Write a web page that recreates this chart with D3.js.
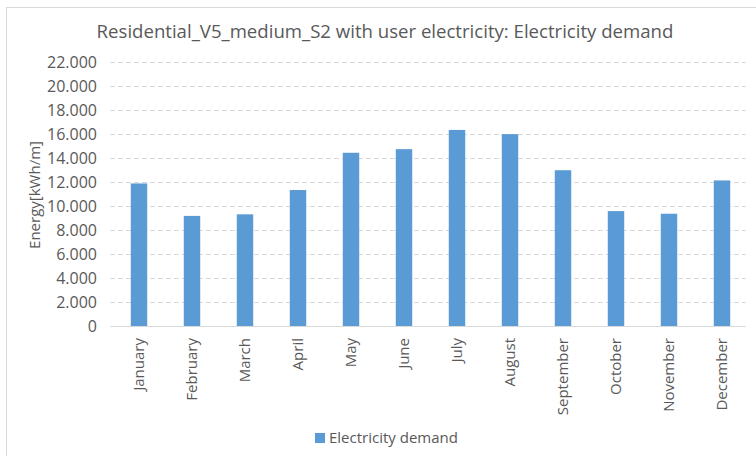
<!DOCTYPE html>
<html lang="en">
<head>
    <meta charset="UTF-8">
    <title>Electricity demand</title>
    <script src="https://d3js.org/d3.v7.min.js"></script>
    <style>
        body {
            margin: 0;
            padding: 0;
            background-color: #ffffff;
            font-family: "Open Sans", Arial, sans-serif;
        }
        svg text {
            fill: #595959;
        }
    </style>
</head>
<body>
    <div id="chart"></div>

    <script>
        const months = ["January", "February", "March", "April", "May", "June",
            "July", "August", "September", "October", "November", "December"];
        const demand = [11900, 9200, 9330, 11350, 14450, 14750,
            16350, 16000, 13000, 9600, 9380, 12150];
        const yTicks = [0, 2000, 4000, 6000, 8000, 10000, 12000, 14000, 16000, 18000, 20000, 22000];

        const W = 756, H = 456;
        const plot = { left: 110, right: 746, top: 62, bottom: 326.5 };

        const svg = d3.select("#chart").append("svg")
            .attr("width", W)
            .attr("height", H);

        // chart frame
        svg.append("rect")
            .attr("x", 6.5).attr("y", 7.5)
            .attr("width", W + 10).attr("height", H + 10)
            .attr("fill", "#fff")
            .attr("stroke", "#d9d9d9");

        const x = d3.scaleBand()
            .domain(months)
            .range([112.5, 748.5])
            .paddingInner(0.69)
            .paddingOuter(0.345);

        const y = d3.scaleLinear()
            .domain([0, 22000])
            .range([plot.bottom, plot.top]);

        const de = d3.formatLocale({ decimal: ",", thousands: ".", grouping: [3], currency: ["", ""] });
        const fmt = de.format(",");

        // gridlines
        svg.append("g")
            .selectAll("line")
            .data(yTicks.filter(d => d > 0))
            .join("line")
            .attr("x1", plot.left).attr("x2", plot.right)
            .attr("y1", d => Math.round(y(d)) + 0.5)
            .attr("y2", d => Math.round(y(d)) + 0.5)
            .attr("stroke", "#d9d9d9")
            .attr("stroke-dasharray", "5,3");

        // y axis labels
        const yAxis = svg.append("g")
            .attr("transform", `translate(${plot.left},0)`)
            .call(d3.axisLeft(y).tickValues(yTicks).tickFormat(fmt).tickSize(0).tickPadding(13));
        yAxis.select(".domain").remove();
        yAxis.selectAll("text")
            .attr("font-family", "Open Sans")
            .attr("font-size", 16)
            .style("fill", "#595959");

        // bars
        svg.append("g")
            .selectAll("rect")
            .data(demand)
            .join("rect")
            .attr("x", (d, i) => x(months[i]))
            .attr("width", x.bandwidth())
            .attr("y", d => y(d))
            .attr("height", d => y(0) - y(d))
            .attr("fill", "#5b9bd5");

        // baseline
        svg.append("line")
            .attr("x1", plot.left).attr("x2", plot.right)
            .attr("y1", y(0)).attr("y2", y(0))
            .attr("stroke", "#d9d9d9");

        // month labels
        svg.append("g")
            .selectAll("text")
            .data(months)
            .join("text")
            .attr("transform", d => `translate(${x(d) + x.bandwidth() / 2},338) rotate(-90)`)
            .attr("text-anchor", "end")
            .attr("dy", "0.35em")
            .attr("font-size", 15)
            .text(d => d);

        // y axis title
        svg.append("text")
            .attr("transform", "translate(35,195) rotate(-90)")
            .attr("text-anchor", "middle")
            .attr("dy", "0.35em")
            .attr("font-size", 15)
            .text("Energy[kWh/m]");

        // title
        svg.append("text")
            .attr("x", 385)
            .attr("y", 38)
            .attr("text-anchor", "middle")
            .attr("font-size", 18.6)
            .text("Residential_V5_medium_S2 with user electricity: Electricity demand");

        // legend
        const legend = svg.append("g").attr("transform", "translate(315,433)");
        legend.append("rect")
            .attr("width", 10).attr("height", 10)
            .attr("fill", "#5b9bd5");
        legend.append("text")
            .attr("x", 14)
            .attr("y", 5)
            .attr("dy", "0.35em")
            .attr("font-size", 15)
            .text("Electricity demand");
    </script>
</body>
</html>
